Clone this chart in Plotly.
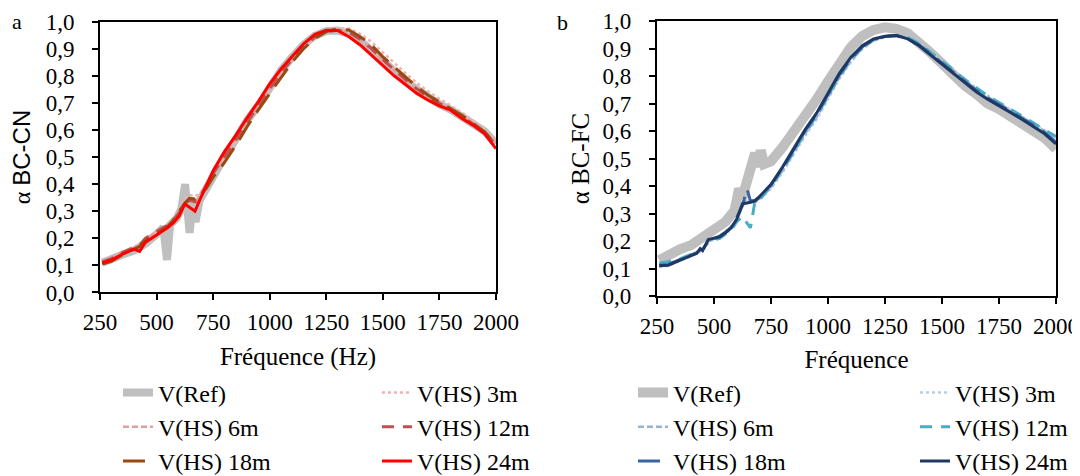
import plotly.graph_objects as go

# ---------------- data : panel a (BC-CN) ----------------
freq_a = [260, 300, 350, 400, 425, 450, 500, 550, 575, 600, 625, 645, 670, 690, 720,
          750, 800, 850, 900, 950, 1000, 1050, 1100, 1150, 1200, 1250, 1300, 1350, 1400,
          1450, 1500, 1550, 1600, 1650, 1700, 1750, 1800, 1850, 1900, 1950, 2000]
a_hs24 = [0.110, 0.120, 0.142, 0.160, 0.152, 0.185, 0.212, 0.240, 0.258, 0.283, 0.327, 0.316, 0.300, 0.340, 0.395,
          0.450, 0.520, 0.580, 0.645, 0.705, 0.770, 0.825, 0.872, 0.918, 0.953, 0.968, 0.967, 0.944, 0.914,
          0.877, 0.840, 0.800, 0.768, 0.735, 0.710, 0.689, 0.673, 0.642, 0.617, 0.586, 0.531]
a_hs18 = [0.105, 0.115, 0.140, 0.160, 0.170, 0.190, 0.215, 0.245, 0.268, 0.300, 0.330, 0.348, 0.345, 0.355, 0.385,
          0.426, 0.480, 0.543, 0.612, 0.675, 0.735, 0.796, 0.852, 0.900, 0.938, 0.963, 0.973, 0.969, 0.944,
          0.914, 0.870, 0.833, 0.796, 0.759, 0.728, 0.704, 0.679, 0.654, 0.623, 0.593, 0.543]
a_hs12 = [0.112, 0.125, 0.148, 0.165, 0.175, 0.200, 0.225, 0.250, 0.268, 0.295, 0.330, 0.340, 0.335, 0.350, 0.395,
          0.440, 0.500, 0.565, 0.630, 0.690, 0.752, 0.812, 0.862, 0.908, 0.943, 0.963, 0.968, 0.960, 0.935,
          0.900, 0.860, 0.822, 0.786, 0.752, 0.722, 0.698, 0.676, 0.650, 0.622, 0.592, 0.545]
a_hs6 = [0.115, 0.128, 0.150, 0.168, 0.172, 0.198, 0.222, 0.248, 0.265, 0.292, 0.335, 0.342, 0.330, 0.352, 0.400,
         0.445, 0.508, 0.570, 0.635, 0.693, 0.758, 0.818, 0.866, 0.912, 0.946, 0.965, 0.968, 0.958, 0.932,
         0.896, 0.856, 0.818, 0.782, 0.750, 0.720, 0.697, 0.676, 0.650, 0.624, 0.594, 0.550]
a_hs3 = [0.112, 0.125, 0.146, 0.166, 0.174, 0.196, 0.220, 0.246, 0.270, 0.300, 0.345, 0.360, 0.355, 0.365, 0.395,
         0.438, 0.495, 0.558, 0.625, 0.688, 0.748, 0.808, 0.860, 0.905, 0.942, 0.965, 0.975, 0.975, 0.955,
         0.925, 0.885, 0.848, 0.810, 0.774, 0.742, 0.716, 0.690, 0.664, 0.634, 0.602, 0.560]
freq_a_ref = [260, 300, 350, 400, 450, 500, 530, 546, 560, 590, 610, 626, 646, 660, 672, 690, 710,
              750, 800, 850, 900, 950, 1000, 1050, 1100, 1150, 1200, 1250, 1300, 1350, 1400,
              1450, 1500, 1550, 1600, 1650, 1700, 1750, 1800, 1850, 1900, 1950, 2000]
a_ref = [0.110, 0.120, 0.140, 0.155, 0.180, 0.215, 0.240, 0.120, 0.250, 0.275, 0.310, 0.400, 0.220, 0.330, 0.260, 0.340, 0.370,
         0.440, 0.500, 0.565, 0.635, 0.690, 0.755, 0.820, 0.870, 0.915, 0.948, 0.965, 0.967, 0.955, 0.930,
         0.890, 0.850, 0.815, 0.780, 0.750, 0.720, 0.695, 0.675, 0.650, 0.625, 0.595, 0.550]

# ---------------- data : panel b (BC-FC) ----------------
freq_b = [260, 300, 350, 400, 425, 440, 450, 475, 500, 525, 550, 575, 600, 625, 645, 660, 680, 700,
          750, 800, 850, 900, 950, 1000, 1050, 1100, 1150, 1200, 1250, 1300, 1350, 1400, 1450,
          1500, 1550, 1600, 1650, 1700, 1750, 1800, 1850, 1900, 1950, 2000]
b_hs24 = [0.110, 0.112, 0.130, 0.145, 0.155, 0.172, 0.165, 0.205, 0.210, 0.215, 0.230, 0.248, 0.280, 0.335, 0.338, 0.340, 0.345, 0.362,
          0.405, 0.468, 0.535, 0.605, 0.665, 0.740, 0.810, 0.868, 0.910, 0.935, 0.945, 0.947, 0.935, 0.910, 0.876,
          0.843, 0.809, 0.775, 0.743, 0.716, 0.693, 0.668, 0.643, 0.618, 0.590, 0.553]
b_hs18 = [0.112, 0.115, 0.132, 0.148, 0.158, 0.170, 0.168, 0.200, 0.210, 0.218, 0.232, 0.250, 0.285, 0.330, 0.390, 0.345, 0.348, 0.360,
          0.405, 0.465, 0.532, 0.602, 0.662, 0.735, 0.805, 0.863, 0.906, 0.932, 0.944, 0.947, 0.937, 0.913, 0.880,
          0.847, 0.813, 0.780, 0.748, 0.720, 0.697, 0.672, 0.647, 0.622, 0.595, 0.558]
b_hs12 = [0.120, 0.125, 0.135, 0.150, 0.160, 0.168, 0.170, 0.195, 0.205, 0.210, 0.225, 0.240, 0.270, 0.290, 0.265, 0.248, 0.345, 0.350,
          0.400, 0.460, 0.525, 0.595, 0.655, 0.728, 0.800, 0.860, 0.905, 0.932, 0.945, 0.948, 0.940, 0.918, 0.887,
          0.855, 0.822, 0.788, 0.757, 0.728, 0.704, 0.680, 0.655, 0.630, 0.604, 0.580]
b_hs6 = [0.115, 0.118, 0.132, 0.147, 0.157, 0.165, 0.168, 0.198, 0.208, 0.214, 0.228, 0.245, 0.275, 0.330, 0.345, 0.350, 0.345, 0.355,
         0.395, 0.455, 0.522, 0.590, 0.650, 0.722, 0.795, 0.855, 0.900, 0.930, 0.944, 0.948, 0.940, 0.918, 0.885,
         0.852, 0.818, 0.785, 0.752, 0.724, 0.700, 0.676, 0.651, 0.626, 0.600, 0.570]
b_hs3 = [0.105, 0.110, 0.128, 0.145, 0.155, 0.162, 0.165, 0.195, 0.205, 0.212, 0.225, 0.242, 0.272, 0.325, 0.350, 0.340, 0.340, 0.350,
         0.390, 0.448, 0.515, 0.582, 0.642, 0.715, 0.790, 0.850, 0.898, 0.928, 0.943, 0.948, 0.942, 0.920, 0.888,
         0.855, 0.822, 0.789, 0.756, 0.728, 0.703, 0.678, 0.654, 0.629, 0.603, 0.572]
freq_b_ref = [260, 300, 350, 400, 450, 500, 550, 590, 610, 625, 640, 660, 680, 695, 705, 720, 750, 800, 850,
              900, 950, 1000, 1050, 1100, 1150, 1200, 1250, 1300, 1350, 1400, 1450, 1500, 1550, 1600,
              1650, 1700, 1750, 1800, 1850, 1900, 1950, 2000]
b_ref = [0.130, 0.150, 0.170, 0.185, 0.210, 0.240, 0.270, 0.310, 0.390, 0.360, 0.400, 0.450, 0.520, 0.470, 0.530, 0.480, 0.490, 0.540, 0.595,
         0.655, 0.715, 0.780, 0.845, 0.905, 0.945, 0.968, 0.977, 0.972, 0.955, 0.925, 0.885, 0.845, 0.800, 0.765,
         0.735, 0.700, 0.680, 0.655, 0.630, 0.605, 0.575, 0.535]

x_ticks = [250, 500, 750, 1000, 1250, 1500, 1750, 2000]
y_ticks = [0.0, 0.1, 0.2, 0.3, 0.4, 0.5, 0.6, 0.7, 0.8, 0.9, 1.0]
series_names = ["V(Ref)", "V(HS) 3m", "V(HS) 6m", "V(HS) 12m", "V(HS) 18m", "V(HS) 24m"]

SERIF = "Liberation Serif"

fig = go.Figure()


def add(x, y, name, color, width, dash, xa, ya, legend):
    fig.add_trace(go.Scatter(
        x=x, y=y, name=name, mode="lines",
        line=dict(color=color, width=width, dash=dash),
        xaxis=xa, yaxis=ya, legend=legend, hoverinfo="x+y+name"))


# panel a
add(freq_a_ref, a_ref, series_names[0], "#BFBFBF", 8, "solid", "x", "y", "legend")
add(freq_a, a_hs3, series_names[1], "#F2B3B0", 2.5, "dot", "x", "y", "legend2")
add(freq_a, a_hs6, series_names[2], "#E39E9D", 2.5, "6px,3px", "x", "y", "legend")
add(freq_a, a_hs12, series_names[3], "#C0504D", 3, "12px,9px", "x", "y", "legend2")
add(freq_a, a_hs18, series_names[4], "#984A12", 3, "22px,10px", "x", "y", "legend")
add(freq_a, a_hs24, series_names[5], "#FF0000", 3, "solid", "x", "y", "legend2")

# panel b
add(freq_b_ref, b_ref, series_names[0], "#BFBFBF", 10, "solid", "x2", "y2", "legend3")
add(freq_b, b_hs3, series_names[1], "#B9CDE5", 2.5, "dot", "x2", "y2", "legend4")
add(freq_b, b_hs6, series_names[2], "#95B3D7", 2.5, "6px,3px", "x2", "y2", "legend3")
add(freq_b, b_hs12, series_names[3], "#4BACC6", 3, "12px,9px", "x2", "y2", "legend4")
add(freq_b, b_hs18, series_names[4], "#3A64A0", 3, "22px,10px", "x2", "y2", "legend3")
add(freq_b, b_hs24, series_names[5], "#1F3864", 3, "solid", "x2", "y2", "legend4")

axis_common = dict(
    showline=True, linecolor="black", linewidth=2, mirror=True,
    ticks="outside", ticklen=6, tickwidth=2, tickcolor="black",
    showgrid=False, zeroline=False,
    tickfont=dict(family=SERIF, size=23, color="black"),
)

xcommon = dict(axis_common, range=[250, 2000], tickvals=x_ticks, ticklabelstandoff=2)
ycommon = dict(axis_common, range=[0, 1], tickvals=y_ticks, tickformat=".1f",
               ticklabelstandoff=13, ticklabeloverflow="allow")

legend_common = dict(
    orientation="v", xanchor="left", yanchor="top", y=-0.268,
    font=dict(family=SERIF, size=24, color="black"),
    bgcolor="rgba(0,0,0,0)", traceorder="normal", itemwidth=30,
)

# the page body has an 8 px margin: the figure is sized so that it fits the 1080x476 window
fig.update_layout(
    width=1072, height=468,
    margin=dict(l=92, r=24, t=10, b=179.5, autoexpand=False),
    paper_bgcolor="white", plot_bgcolor="white",
    separators=", ",
    font=dict(family=SERIF, color="black"),
    xaxis=dict(xcommon, domain=[0, 0.4142], anchor="y",
               title=dict(text="Fréquence (Hz)", font=dict(family=SERIF, size=25), standoff=13)),
    yaxis=dict(ycommon, domain=[0.0126, 0.987], anchor="x",
               title=dict(text="α <span style='font-family:Liberation Sans'>BC-CN</span>",
                          font=dict(family=SERIF, size=24), standoff=12)),
    xaxis2=dict(xcommon, domain=[0.5826, 1], anchor="y2",
                title=dict(text="Fréquence", font=dict(family=SERIF, size=25), standoff=13)),
    yaxis2=dict(ycommon, domain=[0, 0.989], anchor="x2",
                title=dict(text="α BC-FC", font=dict(family=SERIF, size=25), standoff=6)),
    legend=dict(legend_common, x=0.0188),
    legend2=dict(legend_common, x=0.2897),
    legend3=dict(legend_common, x=0.5575),
    legend4=dict(legend_common, x=0.8525),
    annotations=[
        dict(text="a", x=-0.094, y=0.987, xref="paper", yref="paper", xanchor="left", yanchor="middle",
             showarrow=False, font=dict(family=SERIF, size=22, color="black")),
        dict(text="b", x=0.476, y=0.984, xref="paper", yref="paper", xanchor="left", yanchor="middle",
             showarrow=False, font=dict(family=SERIF, size=22, color="black")),
    ],
)

fig.write_html("out.html")
